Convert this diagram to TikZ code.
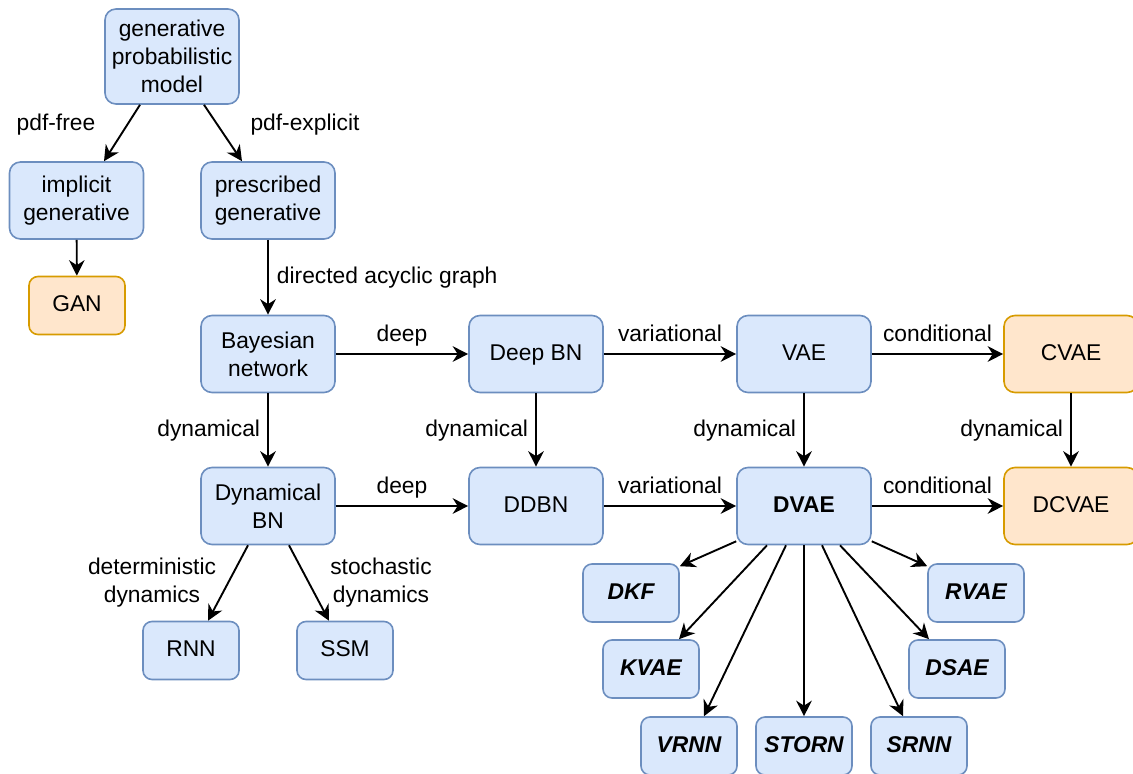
\documentclass[tikz,border=0pt]{standalone}
\usepackage{fontspec}
\setmainfont{Liberation Sans}
\usetikzlibrary{arrows.meta,calc}
\definecolor{bfill}{HTML}{DAE8FC}
\definecolor{bdraw}{HTML}{6C8EBF}
\definecolor{ofill}{HTML}{FFE6CC}
\definecolor{odraw}{HTML}{D79B00}

\begin{document}
\begin{tikzpicture}[x=1pt,y=-1pt,
  font=\fontsize{22.8}{28}\selectfont,
  box/.style={draw=bdraw, fill=bfill, line width=1.6pt, rounded corners=11pt,
    minimum width=134pt, minimum height=77pt, align=center, inner sep=0pt},
  one/.style={text height=17pt, text depth=5pt},
  smallbox/.style={box, one, rounded corners=9pt, minimum width=96pt, minimum height=58pt},
  warm/.style={draw=odraw, fill=ofill},
  model/.style={smallbox, font=\fontsize{22.8}{28}\selectfont\bfseries\itshape},
  link/.style={line width=1.9pt, -{Stealth[length=15.5pt,width=15.5pt,inset=5pt]}},
  lbl/.style={inner sep=0pt, text height=17pt, text depth=5pt},
  mlbl/.style={inner sep=0pt, align=center},
  above lbl/.style={lbl, midway, yshift=19pt},
  left lbl/.style={lbl, midway, anchor=east, xshift=-7pt}
]
\useasboundingbox (0,0) rectangle (1133,774);

% --- model boxes ---
\node[box, minimum height=95pt] (gpm) at (172,56.5) {generative\\probabilistic\\model};
\node[box] (impl) at (76.5,200.5) {implicit\\generative};
\node[box] (pres) at (268,200.5) {prescribed\\generative};
\node[smallbox, warm] (gan) at (77,305.5) {GAN};

\node[box] (bn) at (268,354) {Bayesian\\network};
\node[box, one] (dbn) at (536,354) {Deep BN};
\node[box, one] (vae) at (804,354) {VAE};
\node[box, one, warm] (cvae) at (1071,354) {CVAE};

\node[box] (dyn) at (268,506) {Dynamical\\BN};
\node[box, one] (ddbn) at (536,506) {DDBN};
\node[box, one, font=\fontsize{22.8}{28}\selectfont\bfseries] (dvae) at (804,506) {DVAE};
\node[box, one, warm] (dcvae) at (1071,506) {DCVAE};

\node[smallbox] (rnn) at (191,650.5) {RNN};
\node[smallbox] (ssm) at (345,650.5) {SSM};

\node[model] (dkf) at (631,593) {DKF};
\node[model] (rvae) at (976,593) {RVAE};
\node[model] (kvae) at (651,669) {KVAE};
\node[model] (dsae) at (957,669) {DSAE};
\node[model] (vrnn) at (689,746) {VRNN};
\node[model] (storn) at (804,746) {STORN};
\node[model] (srnn) at (919,746) {SRNN};

% --- top of the hierarchy ---
\draw[link] ($(gpm.south)+(-32,0)$) -- ($(impl.north)+(27.5,0)$);
\draw[link] ($(gpm.south)+(32,0)$) -- ($(pres.north)+(-26,0)$);
\node[lbl] (lfree) at (56,124) {pdf-free};
\node[lbl] (lexpl) at (305,124) {pdf-explicit};
\draw[link] (impl) -- (gan);
\draw[link] (pres) -- node[lbl, anchor=west, xshift=8pt] (ldag) {directed acyclic graph} (bn);

% --- Bayesian network family ---
\draw[link] (bn) -- node[above lbl] (ldeep1) {deep} (dbn);
\draw[link] (dbn) -- node[above lbl] (lvar1) {variational} (vae);
\draw[link] (vae) -- node[above lbl] (lcond1) {conditional} (cvae);
\draw[link] (dyn) -- node[above lbl] (ldeep2) {deep} (ddbn);
\draw[link] (ddbn) -- node[above lbl] (lvar2) {variational} (dvae);
\draw[link] (dvae) -- node[above lbl] (lcond2) {conditional} (dcvae);

\draw[link] (bn) -- node[left lbl] (ldyn1) {dynamical} (dyn);
\draw[link] (dbn) -- node[left lbl] (ldyn2) {dynamical} (ddbn);
\draw[link] (vae) -- node[left lbl] (ldyn3) {dynamical} (dvae);
\draw[link] (cvae) -- node[left lbl] (ldyn4) {dynamical} (dcvae);

% --- dynamical BN branches ---
\draw[link] ($(dyn.south)+(-20,0)$) -- ($(rnn.north)+(17,0)$);
\draw[link] ($(dyn.south)+(21,0)$) -- ($(ssm.north)+(-16,0)$);
\node[mlbl] (ldet) at (152,583) {deterministic\\dynamics};
\node[mlbl] (lsto) at (381,583) {stochastic\\dynamics};

% --- DVAE models ---
\draw[link] ($(dvae.south west)+(0,-4)$) -- ($(dkf.north east)+(0,3)$);
\draw[link] ($(dvae.south)+(-37,0)$) -- ($(kvae.north)+(28,0)$);
\draw[link] ($(dvae.south)+(-18,0)$) -- ($(vrnn.north)+(15,0)$);
\draw[link] (dvae) -- (storn);
\draw[link] ($(dvae.south)+(18,0)$) -- ($(srnn.north)+(-16,0)$);
\draw[link] ($(dvae.south)+(36,0)$) -- ($(dsae.north)+(-28,0)$);
\draw[link] ($(dvae.south east)+(0,-4)$) -- ($(rvae.north west)+(0,3)$);
\end{tikzpicture}
\end{document}
